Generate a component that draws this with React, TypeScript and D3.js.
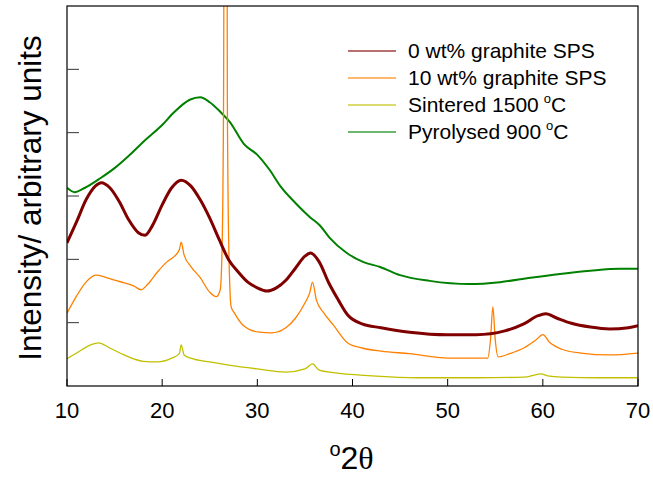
import React from 'react';
import * as d3 from 'd3';

// [2theta, intensity], y in arbitrary units (0..6)
const sps0: [number, number][] = [
  [10, 2.26], [11, 2.59], [12, 2.94], [13, 3.16], [13.6, 3.21], [14.5, 3.13], [15.5, 2.91],
  [16.5, 2.62], [17.5, 2.42], [18.2, 2.38], [19, 2.54], [20, 2.86], [21, 3.13], [22, 3.25],
  [23, 3.16], [24, 2.94], [25, 2.65], [26, 2.31], [27, 1.99], [28, 1.8], [29, 1.64],
  [30, 1.55], [31, 1.5], [32, 1.55], [33, 1.67], [34, 1.86], [35, 2.05], [35.6, 2.1],
  [36.5, 1.96], [37.5, 1.63], [38.5, 1.36], [39.5, 1.12], [41, 0.98], [43, 0.92], [46, 0.85],
  [50, 0.81], [53, 0.81], [56, 0.87], [58, 0.98], [59.5, 1.11], [60.3, 1.14], [61.5, 1.07],
  [63, 0.99], [65, 0.93], [67, 0.9], [69, 0.92], [70, 0.95],
];

const sps10: [number, number][] = [
  [10, 1.15], [11, 1.42], [12, 1.64], [13, 1.75], [14, 1.72], [15, 1.67], [16, 1.63],
  [17, 1.58], [17.8, 1.52], [18.5, 1.61], [19.5, 1.8], [20.5, 1.96], [21.3, 2.05],
  [21.8, 2.15], [22, 2.27], [22.3, 2.07], [23, 1.89], [24, 1.71], [25, 1.48], [25.7, 1.41],
  [26.1, 1.52], [26.3, 2.2], [26.45, 4.5], [26.67, 20], [26.85, 4.5], [27.0, 2.2],
  [27.25, 1.25], [27.6, 1.15], [28.5, 0.96], [30.2, 0.85], [31.5, 0.84], [33, 0.92],
  [34, 1.07], [35, 1.31], [35.5, 1.47], [35.8, 1.64], [36.2, 1.36], [37, 1.15], [38, 0.96],
  [39.5, 0.68], [41, 0.6], [43, 0.55], [46, 0.51], [50, 0.44], [54.2, 0.44], [54.5, 0.73],
  [54.75, 1.25], [55, 0.73], [55.3, 0.46], [56.5, 0.51], [58, 0.6], [59.3, 0.73], [60, 0.81],
  [60.7, 0.69], [62, 0.58], [64, 0.52], [67, 0.49], [70, 0.52],
];

const sintered: [number, number][] = [
  [10, 0.43], [11, 0.52], [12.5, 0.65], [13.3, 0.68], [14.5, 0.6], [16, 0.49], [18, 0.39],
  [19.5, 0.38], [21, 0.44], [21.8, 0.51], [22, 0.65], [22.3, 0.49], [23, 0.44], [25, 0.38],
  [27, 0.33], [30, 0.27], [33, 0.22], [35, 0.27], [35.8, 0.35], [36.5, 0.25], [38, 0.21],
  [42, 0.16], [47, 0.13], [53, 0.13], [58, 0.14], [59.8, 0.19], [60.5, 0.16], [62, 0.14],
  [66, 0.13], [70, 0.13],
];

const pyrolysed: [number, number][] = [
  [10, 3.13], [10.8, 3.06], [11.9, 3.13], [13.5, 3.28], [15, 3.44], [16.6, 3.65],
  [18.2, 3.88], [20, 4.12], [21.3, 4.33], [22.9, 4.52], [24, 4.56], [25, 4.48], [26.1, 4.33],
  [27.1, 4.17], [28.6, 3.82], [30, 3.65], [31.3, 3.41], [32.4, 3.16], [34, 2.89],
  [35.5, 2.67], [36.6, 2.53], [37.6, 2.34], [39.4, 2.1], [41.1, 1.96], [42.9, 1.88],
  [45, 1.75], [48.1, 1.66], [52.3, 1.61], [55.5, 1.64], [58.7, 1.71], [61.8, 1.77],
  [65, 1.82], [68.1, 1.85], [70, 1.85],
];

const seriesNames = ['0 wt% graphite SPS', '10 wt% graphite SPS', 'Sintered 1500', 'Pyrolysed 900'];
const seriesColors = ['#800000', '#ff8000', '#c0c000', '#008000'];
const seriesWidths = [3, 1.3, 1.3, 2];
const seriesData = [sps0, sps10, sintered, pyrolysed];

const xTicks = [10, 20, 30, 40, 50, 60, 70];
const yTicks = [1, 2, 3, 4, 5];

const W = 653;
const H = 477;
const margin = { top: 6, right: 15, bottom: 91, left: 67 };
const font = '"Liberation Sans", Arial, sans-serif';

export default function App() {
  const innerW = W - margin.left - margin.right;
  const innerH = H - margin.top - margin.bottom;

  const x = d3.scaleLinear().domain([10, 70]).range([0, innerW]);
  const y = d3.scaleLinear().domain([0, 6]).range([innerH, 0]);

  const line = d3.line<[number, number]>()
    .x(d => x(d[0]))
    .y(d => y(d[1]))
    .curve(d3.curveMonotoneX);

  // draw order: back to front
  const order = [3, 2, 1, 0];

  return (
    <svg width={W} height={H} style={{ position: 'absolute', left: 0, top: 0, background: '#fff' }}>
      <defs>
        <clipPath id="plot-clip">
          <rect width={innerW} height={innerH} />
        </clipPath>
      </defs>
      <g transform={`translate(${margin.left},${margin.top})`}>
        <g clipPath="url(#plot-clip)">
          {order.map(i => (
            <path key={i} d={line(seriesData[i]) || ''} fill="none"
              stroke={seriesColors[i]} strokeWidth={seriesWidths[i]} strokeLinejoin="round" />
          ))}
        </g>

        <rect width={innerW} height={innerH} fill="none" stroke="#000" strokeWidth={1.2} />

        {yTicks.map(t => (
          <line key={t} x1={0} x2={12} y1={y(t)} y2={y(t)} stroke="#333" strokeWidth={1} />
        ))}
        {xTicks.map(t => (
          <g key={t}>
            <line x1={x(t)} x2={x(t)} y1={innerH} y2={innerH - 7} stroke="#000" strokeWidth={1} />
            <text x={x(t)} y={innerH + 32} textAnchor="middle" fontFamily={font} fontSize={22} fill="#000">{t}</text>
          </g>
        ))}

        {/* legend */}
        {seriesNames.map((name, i) => {
          const ly = 45 + i * 27;
          return (
            <g key={name}>
              <line x1={281} x2={329} y1={ly} y2={ly} stroke={seriesColors[i]} strokeWidth={1.3} opacity={0.75} />
              <text x={341} y={ly + 7} fontFamily={font} fontSize={21} fill="#000">
                {name}
                {i >= 2 && (
                  <>
                    <tspan dx={5} dy={-9} fontSize={13}>o</tspan>
                    <tspan dy={9}>C</tspan>
                  </>
                )}
              </text>
            </g>
          );
        })}
      </g>

      <text transform={`translate(41,${margin.top + innerH / 2 + 2}) rotate(-90)`} textAnchor="middle"
        fontFamily={font} fontSize={31.5} fill="#000">Intensity/ arbitrary units</text>

      <text x={margin.left + innerW / 2 - 1} y={469} textAnchor="middle" fontFamily={font} fontSize={32} fill="#000">
        <tspan fontSize={20} dy={-13}>o</tspan>
        <tspan dy={13}>2</tspan>
        <tspan fontFamily='"Liberation Serif", "DejaVu Serif", serif'>θ</tspan>
      </text>
    </svg>
  );
}
